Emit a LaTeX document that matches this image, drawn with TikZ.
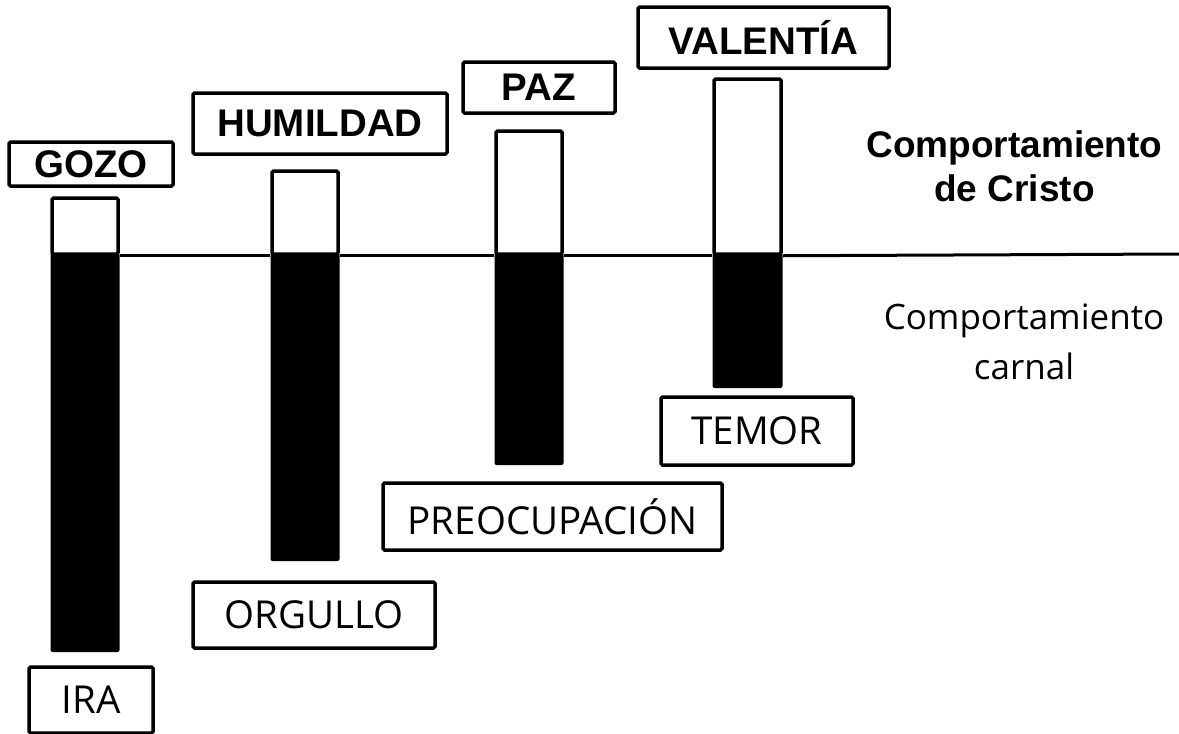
\documentclass[tikz,border=0pt]{standalone}
\usepackage{fontspec}
\setmainfont{Liberation Sans}
\newfontfamily\comic{Open Sans}
\tikzset{
  lbl/.style={draw, line width=3.5pt, rounded corners=1.5pt, fill=white, inner sep=0pt, align=center},
  virtue/.style={lbl, font=\fontsize{38.5}{42}\selectfont\bfseries},
  vice/.style={lbl, font=\comic\fontsize{38.5}{42}\selectfont},
  upper/.style={draw, line width=3.5pt, rounded corners=1.5pt, fill=white, inner sep=0pt},
  lower/.style={fill=black, rounded corners=2pt, inner sep=0pt},
}
\begin{document}
\begin{tikzpicture}[x=1pt,y=-1pt]
\useasboundingbox (0,0) rectangle (1179,734);
% bars (lower black parts)
\node[lower, minimum width=69pt, minimum height=399pt] (b1) at (85,452.5) {};
\node[lower, minimum width=69pt, minimum height=308pt] (b2) at (305,407) {};
\node[lower, minimum width=69pt, minimum height=212pt] (b3) at (529,359) {};
\node[lower, minimum width=70pt, minimum height=135pt] (b4) at (747.5,320.5) {};
% upper white parts
\node[upper, minimum width=66pt, minimum height=56pt] (w1) at (85,226) {};
\node[upper, minimum width=66pt, minimum height=83pt] (w2) at (305,212.5) {};
\node[upper, minimum width=66pt, minimum height=123pt] (w3) at (529,192.5) {};
\node[upper, minimum width=67pt, minimum height=175pt] (w4) at (747.5,166.5) {};
% baseline
\coordinate (lend) at (1179,254);
\draw[line width=3pt] (w1.south east) -- (w2.south west);
\draw[line width=3pt] (w2.south east) -- (w3.south west);
\draw[line width=3pt] (w3.south east) -- (w4.south west);
\draw[line width=3pt] (w4.south east) -- (lend);
% virtue labels
\node[virtue, minimum width=164pt, minimum height=44pt] (gozo) at (91,164) {GOZO};
\node[virtue, minimum width=254pt, minimum height=61pt] (humildad) at (320,123.5) {HUMILDAD};
\node[virtue, minimum width=152pt, minimum height=51pt] (paz) at (539,87.5) {PAZ};
\node[virtue, minimum width=251pt, minimum height=61pt] (valentia) at (763.5,37.5) {VALENTÍA};
% vice labels
\node[vice, minimum width=124pt, minimum height=66pt] (ira) at (91,700) {IRA};
\node[vice, minimum width=242pt, minimum height=66pt] (orgullo) at (314,615) {ORGULLO};
\node[vice, minimum width=339pt, minimum height=67pt] (preoc) at (552.5,516.5) {PREOCUPACIÓN};
\node[vice, minimum width=192pt, minimum height=68pt] (temor) at (757,431) {TEMOR};
% side captions
\node[font=\fontsize{37}{44}\selectfont\bfseries, align=center] (cristo) at (1014.5,166) {Comportamiento\\de Cristo};
\node[font=\comic\fontsize{35}{50}\selectfont, align=center] (carnal) at (1024,342) {Comportamiento\\carnal};
\end{tikzpicture}
\end{document}
